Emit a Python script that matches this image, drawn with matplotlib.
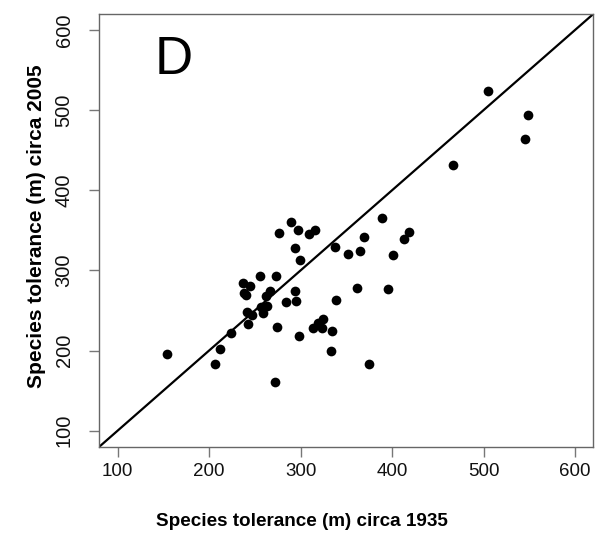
import matplotlib
matplotlib.use("Agg")
import matplotlib.pyplot as plt

plt.rcParams['font.family'] = ['Liberation Sans', 'DejaVu Sans']

tol_1935 = [154.3, 206.8, 211.9, 223.6, 242.5, 241.4, 246.9, 258.9, 256.4, 262.9,
            237.1, 245.1, 237.8, 240.3, 255.3, 261.9, 266.6, 272.8, 274.6, 271.7,
            276.1, 289.9, 297.2, 293.6, 299.8, 308.9, 315.4, 284.1, 293.6, 294.7,
            297.9, 313.9, 319.4, 324.9, 323.1, 334.0, 333.6, 338.7, 338.0, 351.5,
            364.6, 369.0, 361.7, 374.8, 389.0, 395.6, 401.4, 413.1, 418.2, 466.3,
            505.3, 548.3, 545.4]
tol_2005 = [195.3, 182.8, 202.4, 221.5, 233.1, 247.7, 244.4, 246.5, 254.0, 255.6,
            284.7, 280.6, 271.4, 268.9, 293.0, 268.1, 274.7, 293.0, 229.8, 160.4,
            347.1, 360.4, 350.4, 328.4, 313.0, 345.5, 350.0, 260.2, 274.3, 261.8,
            218.2, 228.5, 234.0, 239.0, 227.8, 224.4, 199.4, 262.7, 329.7, 320.9,
            324.2, 341.7, 278.5, 182.8, 365.4, 277.2, 318.8, 339.2, 348.0, 432.0,
            523.5, 494.0, 464.4]
ticks = [100, 200, 300, 400, 500, 600]
lims = [80, 620]

fig = plt.figure(figsize=(6.0, 5.39), dpi=100)
ax = fig.add_axes([0.1655, 0.1712, 0.8233, 0.8028])

ax.plot(lims, lims, color='black', lw=1.6, solid_capstyle='butt')
ax.plot(tol_1935, tol_2005, 'o', color='black', markersize=7, markeredgewidth=0)

ax.set_xlim(lims)
ax.set_ylim(lims)
ax.set_xticks(ticks)
ax.set_yticks(ticks)

for s in ax.spines.values():
    s.set_color('#666666')
    s.set_linewidth(1.0)

ax.tick_params(axis='both', direction='out', length=7.5, width=1.0,
               color='#777777', labelcolor='#111111')
ax.tick_params(axis='x', pad=4, labelsize=13.5)
ax.tick_params(axis='y', pad=11, labelsize=14.5)
plt.setp(ax.get_yticklabels(), rotation=90, va='center')

ax.set_xlabel('Species tolerance (m) circa 1935', fontsize=13.6, fontweight='bold')
ax.set_ylabel('Species tolerance (m) circa 2005', fontsize=15, fontweight='bold')
ax.xaxis.set_label_coords(0.41, -0.153)
ax.yaxis.set_label_coords(-0.108, 0.51)

ax.text(0.112, 0.861, 'D', transform=ax.transAxes, fontsize=38,
        ha='left', va='baseline')

fig.savefig('out.png', dpi=100)
